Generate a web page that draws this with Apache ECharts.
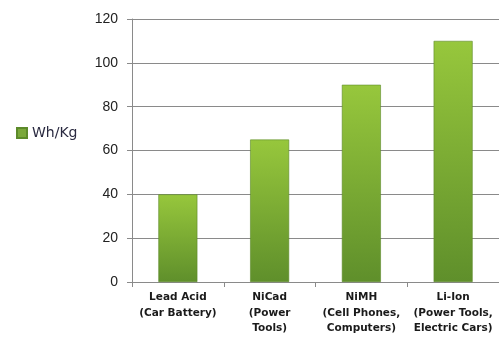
<!DOCTYPE html>
<html>
<head>
<meta charset="utf-8">
<script src="https://cdn.jsdelivr.net/npm/echarts@6/dist/echarts.min.js"></script>
<style>
  html, body { margin: 0; padding: 0; background: #fff; }
  #chart { width: 499px; height: 338px; }
</style>
</head>
<body>
<div id="chart"></div>
<script>
// Battery chemistries and their specific energy
const categories = [
  'Lead Acid\n(Car Battery)',
  'NiCad\n(Power\nTools)',
  'NiMH\n(Cell Phones,\nComputers)',
  'Li-Ion\n(Power Tools,\nElectric Cars)'
];
const whPerKg = [40, 65, 90, 110];
const seriesName = 'Wh/Kg';

const chart = echarts.init(document.getElementById('chart'), null, { renderer: 'canvas' });

const barFill = new echarts.graphic.LinearGradient(0, 0, 0, 1, [
  { offset: 0, color: '#97c73c' },
  { offset: 1, color: '#5f8f2b' }
]);

chart.setOption({
  animation: false,
  backgroundColor: '#ffffff',
  legend: {
    left: 11,
    top: 121,
    orient: 'vertical',
    itemWidth: 10,
    itemHeight: 10,
    itemGap: 4,
    icon: 'rect',
    textStyle: { fontFamily: 'DejaVu Sans, sans-serif', fontSize: 14, color: '#2a2a40' },
    data: [{ name: seriesName, itemStyle: { color: '#7aa83a' } }]
  },
  grid: { left: 132, top: 19, width: 376, height: 263, containLabel: false },
  xAxis: {
    type: 'category',
    data: categories,
    axisLine: { lineStyle: { color: '#8a8a8a', width: 1 } },
    axisTick: { show: true, alignWithLabel: false, length: 5, lineStyle: { color: '#8a8a8a' } },
    axisLabel: {
      interval: 0,
      margin: 8,
      fontFamily: 'Verdana, DejaVu Sans, sans-serif',
      fontWeight: 'bold',
      fontSize: 10.5,
      lineHeight: 15.5,
      color: '#1a1a1a'
    }
  },
  yAxis: {
    type: 'value',
    min: 0,
    max: 120,
    interval: 20,
    axisLine: { show: true, lineStyle: { color: '#8a8a8a' } },
    axisTick: { show: true, length: 5, lineStyle: { color: '#8a8a8a' } },
    axisLabel: {
      margin: 14,
      fontFamily: 'Arial, Liberation Sans, sans-serif',
      fontSize: 14,
      color: '#222222'
    },
    splitLine: { show: true, lineStyle: { color: '#8a8a8a', width: 1 } }
  },
  series: [{
    name: seriesName,
    type: 'bar',
    data: whPerKg,
    barWidth: 39,
    itemStyle: { color: barFill, borderColor: '#5c8a2a', borderWidth: 0.6 }
  }]
});
</script>
</body>
</html>
